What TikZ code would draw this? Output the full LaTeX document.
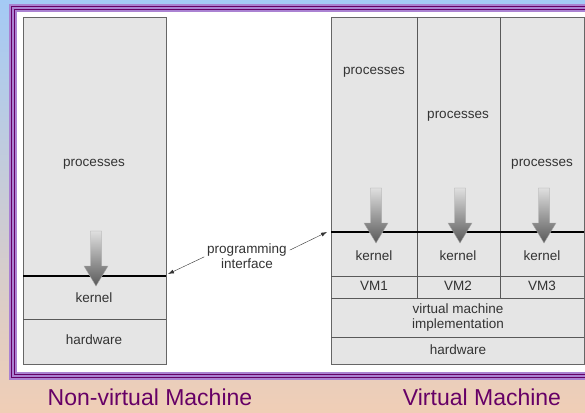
\documentclass[tikz,border=0pt]{standalone}
\usepackage{fontspec}
\setmainfont{Liberation Sans}
\usetikzlibrary{arrows.meta}

\definecolor{slidepurple}{RGB}{102,0,102}
\definecolor{framelilac}{RGB}{170,130,210}
\definecolor{boxgray}{RGB}{229,229,229}
\definecolor{skyblue}{RGB}{164,202,245}
\definecolor{peach}{RGB}{240,206,182}

\tikzset{
  txt/.style={font=\fontsize{13.5}{15}\selectfont, text=black!80, inner sep=1pt},
  lbl/.style={txt, text height=1.5ex, text depth=.25ex},
  caption/.style={font=\fontsize{23}{27}\selectfont, text=slidepurple},
  layer/.style={draw=gray!80!black, fill=boxgray, line width=0.8pt},
  sep/.style={draw=gray!70!black, line width=0.8pt},
  api/.style={black, line width=2pt},
  ptr/.style={-{Latex[length=6pt,width=4pt]}, gray!40!black, thin, shorten <=2pt},
  call/.style={top color=gray!25, bottom color=gray!70!black, draw=gray!70, thin},
}

\begin{document}
\begin{tikzpicture}[x=1pt,y=-1pt]
\useasboundingbox (0,0) rectangle (585,412);
\clip (0,0) rectangle (585,412);

% slide background and frame
\shade[top color=skyblue, bottom color=peach] (0,0) rectangle (585,412);
\fill[framelilac] (9,4) rectangle (600,380);
\draw[slidepurple, line width=1.5pt] (11.5,6.5) rectangle (600,377.5);
\draw[slidepurple, line width=1.5pt] (14.5,9.5) rectangle (600,374.5);
\fill[white] (17,12) rectangle (600,372);

% non-virtual machine
\draw[layer] (23,17) rectangle (166,364);
\draw[api] (23,276) -- (166,276);
\draw[sep] (23,319) -- (166,319);
\node[lbl] (procA) at (94,163) {processes};
\node[lbl] (kernA) at (94,299) {kernel};
\node[lbl] (hwA)   at (94,341) {hardware};

% virtual machine
\draw[layer] (331,17) rectangle (584,364);
\draw[sep] (417,17) -- (417,298);
\draw[sep] (500,17) -- (500,298);
\draw[api] (331,232) -- (584,232);
\draw[sep] (331,276) -- (584,276);
\draw[sep] (331,298) -- (584,298);
\draw[sep] (331,337) -- (584,337);
\foreach \i/\x/\y in {1/374/71, 2/458/115, 3/542/163} {
  \node[lbl] (proc\i) at (\x,\y) {processes};
  \node[lbl] (kern\i) at (\x,257) {kernel};
  \node[lbl] (vm\i)   at (\x,287) {VM\i};
}
\node[txt, align=center] (vmimpl) at (458,318) {virtual machine\\implementation};
\node[lbl] (hwB) at (458,351) {hardware};

% system calls going down into the kernel
\foreach \c/\t in {96/231, 376/188, 460/188, 544/188}
  \path[call] (\c-5.5,\t) -- ++(11,0) -- ++(0,35) -- ++(6.5,0)
    -- (\c,\t+55) -- ++(-12,-20) -- ++(6.5,0) -- cycle;

% programming interface
\node[txt, align=center] (api) at (247,256) {programming\\interface};
\coordinate (apiA) at (168,274);
\coordinate (apiB) at (327,232);
\draw[ptr] (api.west) -- (apiA);
\draw[ptr] ([yshift=5pt]api.east) -- (apiB);

% captions
\node[caption] (capA) at (150,397) {Non-virtual Machine};
\node[caption] (capB) at (482,397) {Virtual Machine};
\end{tikzpicture}
\end{document}
